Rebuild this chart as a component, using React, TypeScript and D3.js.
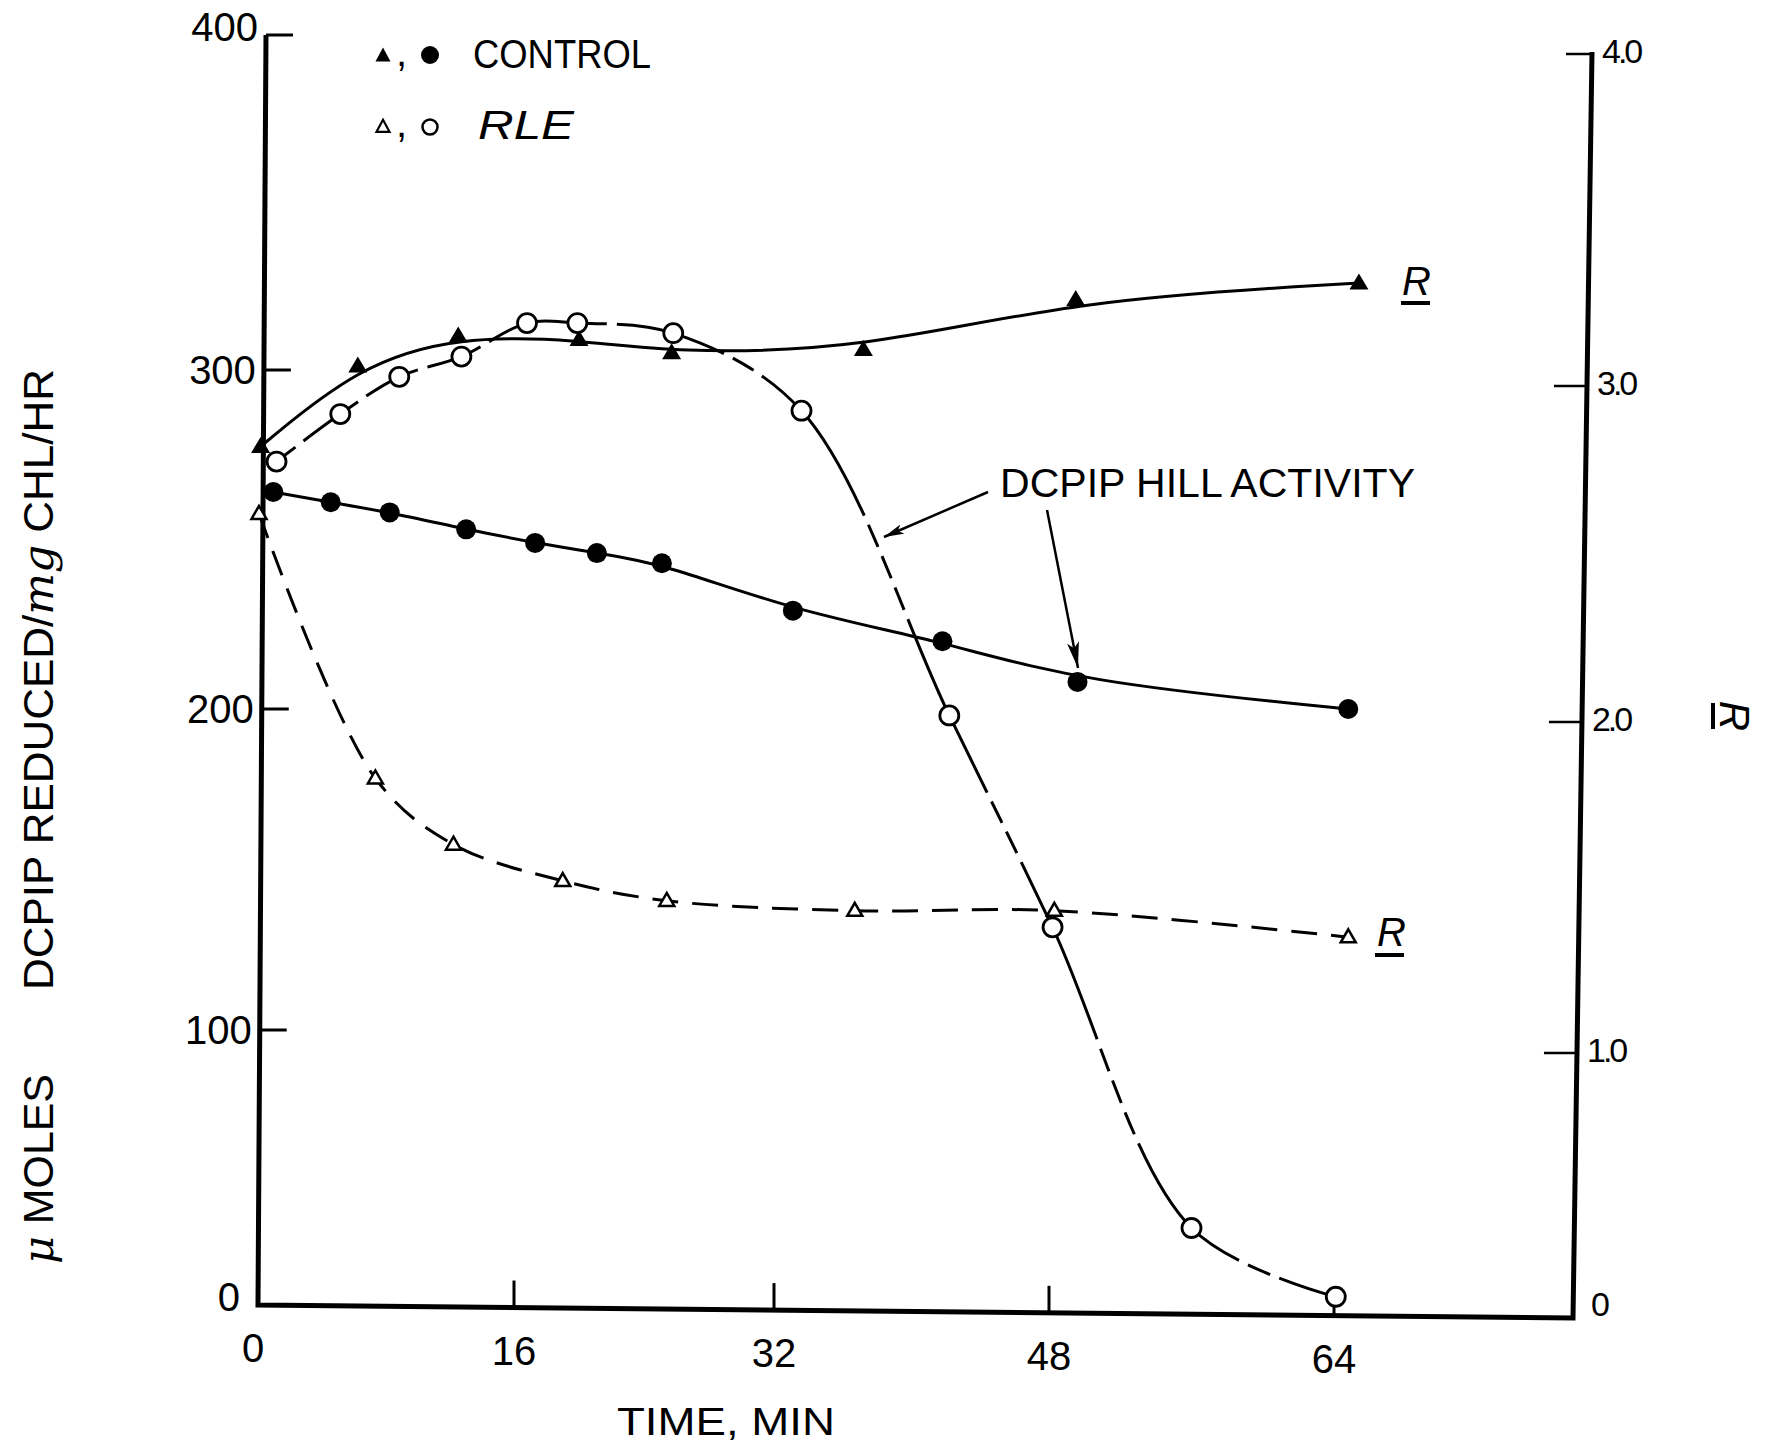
import { useRef, useLayoutEffect, useState } from "react";
import * as d3 from "d3";

// values (time in min)
const timeTicks = [0, 16, 32, 48, 64];
const hillTicks = [0, 100, 200, 300, 400];
const rTicks = [0, 1, 2, 3, 4];
const rTickLabels = ["0", "1.0", "2.0", "3.0", "4.0"];

// control, R (filled triangles, right axis)
const controlRTime = [0.1, 6.2, 12.5, 20.0, 25.7, 37.2, 49.5, 65.4];
const controlR = [2.82, 3.06, 3.15, 3.14, 3.1, 3.11, 3.26, 3.31];

// control, DCPIP Hill activity (filled circles, left axis)
const controlHillTime = [0.9, 4.5, 8.2, 13.0, 17.3, 21.1, 25.1, 33.1, 41.8, 49.6, 64.8];
const controlHill = [264, 261, 258, 253, 249, 246, 243, 229, 220, 208, 200];

// RLE, R (open triangles, right axis)
const rleRTime = [0, 7.3, 12.2, 19.0, 25.4, 36.7, 48.3, 64.8];
const rleR = [2.62, 1.83, 1.63, 1.52, 1.46, 1.43, 1.43, 1.35];

// RLE, DCPIP Hill activity (open circles, left axis)
const rleHillTime = [1.1, 5.1, 8.8, 12.7, 16.8, 19.9, 25.8, 33.6, 42.2, 48.2, 56.0, 64.1];
const rleHill = [273, 287, 298, 304, 314, 314, 311, 288, 198, 132, 28, 3];

const W = 1765;
const H = 1445;
const FONT = "'Liberation Sans', Arial, sans-serif";

// the scanned axes are slightly uneven, so the scales are piecewise
const x = d3.scaleLinear().domain(timeTicks).range([259, 514, 774, 1049, 1334]);
const yHill = d3.scaleLinear().domain(hillTicks).range([1305, 1030, 709, 370, 35]);
const yR = d3.scaleLinear().domain(rTicks).range([1316, 1053, 722, 386, 54]);

// frame corners (hand drawn, a little tilted)
const frame = { tl: [266, 35], bl: [258, 1305], br: [1573, 1318], tr: [1592, 52] };
const leftX = (y: number) => frame.bl[0] + ((frame.bl[1] - y) / (frame.bl[1] - frame.tl[1])) * (frame.tl[0] - frame.bl[0]);
const rightX = (y: number) => frame.br[0] + ((frame.br[1] - y) / (frame.br[1] - frame.tr[1])) * (frame.tr[0] - frame.br[0]);
const bottomY = (px: number) => frame.bl[1] + ((px - frame.bl[0]) / (frame.br[0] - frame.bl[0])) * (frame.br[1] - frame.bl[1]);

const zip = (xs: number[], ys: number[]) => xs.map((t, i) => [t, ys[i]] as [number, number]);

const triUp = (cx: number, cy: number, w: number, h: number) =>
  `M${cx},${cy - h * 0.6}L${cx + w / 2},${cy + h * 0.4}L${cx - w / 2},${cy + h * 0.4}Z`;

function App() {
  const rleHillRef = useRef<SVGPathElement>(null);
  const [dash, setDash] = useState<string | undefined>(undefined);

  const lineHill = (curve: d3.CurveFactory) =>
    d3.line<[number, number]>().x(d => x(d[0])).y(d => yHill(d[1])).curve(curve);
  const lineR = (curve: d3.CurveFactory) =>
    d3.line<[number, number]>().x(d => x(d[0])).y(d => yR(d[1])).curve(curve);

  const controlRPath = lineR(d3.curveBasis)(zip(controlRTime, controlR))!;
  const controlHillPath = lineHill(d3.curveBasis)(zip(controlHillTime, controlHill))!;
  const rleRPath = lineR(d3.curveCatmullRom.alpha(0.5))(zip(rleRTime, rleR))!;
  const rleHillPath = lineHill(d3.curveCatmullRom.alpha(0.5))(zip(rleHillTime, rleHill))!;

  // the RLE hill curve is solid near its points, with a few breaks midway
  useLayoutEffect(() => {
    const p = rleHillRef.current;
    if (!p) return;
    const total = p.getTotalLength();
    const marks = rleHillTime.map((t, i) => {
      const px = x(t), py = yHill(rleHill[i]);
      let best = 0, bd = Infinity;
      for (let l = 0; l <= total; l += 2) {
        const q = p.getPointAtLength(l);
        const d = (q.x - px) ** 2 + (q.y - py) ** 2;
        if (d < bd) { bd = d; best = l; }
      }
      return best;
    });
    const gaps: [number, number][] = [];
    for (let i = 0; i < marks.length - 1; i++) {
      const a = marks[i], b = marks[i + 1];
      const len = b - a;
      if (len < 55) continue;
      const s = len > 150 ? len * 0.36 : len * 0.3;
      let pos = a + s;
      const end = b - (len > 150 ? len * 0.3 : len * 0.3);
      do {
        gaps.push([pos, pos + 10]);
        pos += 10 + 24;
      } while (pos + 10 < end);
    }
    const arr: number[] = [];
    let cur = 0;
    gaps.forEach(([g0, g1]) => {
      arr.push(g0 - cur, g1 - g0);
      cur = g1;
    });
    arr.push(total - cur + 10, 0);
    setDash(arr.map(v => v.toFixed(1)).join(" "));
  }, []);

  const axisStroke = 5;

  return (
    <svg width={W} height={H} style={{ position: "absolute", left: 0, top: 0, display: "block", background: "#fff" }}
      fontFamily={FONT}>
      <rect width={W} height={H} fill="#fff" />

      {/* frame */}
      <path d={`M${frame.tl[0]},${frame.tl[1]}L${frame.bl[0]},${frame.bl[1]}L${frame.br[0]},${frame.br[1]}L${frame.tr[0]},${frame.tr[1]}`}
        fill="none" stroke="#000" strokeWidth={axisStroke} strokeLinejoin="miter" />

      {/* left ticks */}
      {hillTicks.filter(v => v > 0).map(v => {
        const y = yHill(v);
        const x0 = leftX(y);
        return <line key={"lt" + v} x1={x0} x2={x0 + 27} y1={y} y2={y} stroke="#000" strokeWidth={3} />;
      })}
      {hillTicks.map(v => {
        const y = yHill(v);
        return (
          <text key={"ll" + v} x={leftX(y) - (v === 0 ? 18 : 8)} y={y + (v === 400 ? -8 : v === 0 ? -8 : 0)} dy="0.36em"
            textAnchor="end" fontSize={40}>{v}</text>
        );
      })}

      {/* right ticks */}
      {rTicks.filter(v => v > 0).map(v => {
        const y = yR(v);
        const x0 = rightX(y);
        return <line key={"rt" + v} x1={x0 - (v === 4 ? 26 : 33)} x2={x0} y1={y} y2={y} stroke="#000" strokeWidth={2.5} />;
      })}
      {rTicks.map((v, i) => {
        const y = yR(v);
        return (
          <text key={"rl" + v} x={rightX(y) + (v === 0 ? 18 : 10)} y={y + (v === 0 ? -12 : -3)} dy="0.36em"
            fontSize={34} letterSpacing={-3}>{rTickLabels[i]}</text>
        );
      })}

      {/* bottom ticks */}
      {timeTicks.filter(t => t > 0).map(t => {
        const px = x(t);
        const y0 = bottomY(px);
        return <line key={"bt" + t} x1={px} x2={px} y1={y0} y2={y0 - 27} stroke="#000" strokeWidth={3} />;
      })}
      {timeTicks.map(t => {
        const px = x(t);
        return (
          <text key={"bl" + t} x={px - (t === 0 ? 6 : 0)} y={bottomY(px) + 57} textAnchor="middle" fontSize={40}>{t}</text>
        );
      })}

      {/* axis titles */}
      <text x={617} y={1435} fontSize={38} textLength={218} lengthAdjust="spacingAndGlyphs">TIME, MIN</text>
      <text transform="translate(53,1264) rotate(-90)" fontSize={42} textLength={190} lengthAdjust="spacingAndGlyphs">
        <tspan fontFamily="'DejaVu Serif', serif" fontStyle="italic">μ</tspan> MOLES
      </text>
      <text transform="translate(53,990) rotate(-90)" fontSize={42} textLength={621} lengthAdjust="spacingAndGlyphs">
        DCPIP REDUCED/<tspan fontFamily="'DejaVu Serif', serif" fontStyle="italic">mg</tspan> CHL/HR
      </text>
      <g transform="translate(1734,716) rotate(90)">
        <text x={0} y={14} textAnchor="middle" fontSize={42} fontStyle="italic">R</text>
        <line x1={-13} x2={13} y1={21} y2={21} stroke="#000" strokeWidth={4} />
      </g>

      {/* legend */}
      <path d={triUp(383, 56, 15, 14)} fill="#000" />
      <text x={396} y={66} fontSize={40}>,</text>
      <circle cx={430} cy={55} r={9} fill="#000" />
      <text x={473} y={68} fontSize={40} textLength={178} lengthAdjust="spacingAndGlyphs">CONTROL</text>
      <path d={triUp(383, 127, 13, 12)} fill="#fff" stroke="#000" strokeWidth={2.2} />
      <text x={396} y={137} fontSize={40}>,</text>
      <circle cx={430} cy={127} r={7.5} fill="#fff" stroke="#000" strokeWidth={2.5} />
      <text x={478} y={139} fontSize={40} fontStyle="italic" textLength={96} lengthAdjust="spacingAndGlyphs">RLE</text>

      {/* curves */}
      <path d={controlRPath} fill="none" stroke="#000" strokeWidth={3} />
      <path d={controlHillPath} fill="none" stroke="#000" strokeWidth={3} />
      <path d={rleRPath} fill="none" stroke="#000" strokeWidth={3} strokeDasharray="26 14" />
      <path ref={rleHillRef} d={rleHillPath} fill="none" stroke="#000" strokeWidth={3} strokeDasharray={dash} />

      {/* markers */}
      {controlRTime.map((t, i) => (
        <path key={"cr" + i} d={triUp(x(t), yR(controlR[i]), 19, 16)} fill="#000" />
      ))}
      {controlHillTime.map((t, i) => (
        <circle key={"ch" + i} cx={x(t)} cy={yHill(controlHill[i])} r={10} fill="#000" />
      ))}
      {rleRTime.map((t, i) => (
        <path key={"rr" + i} d={triUp(x(t), yR(rleR[i]), 15, 13)} fill="#fff" stroke="#000" strokeWidth={2.5} />
      ))}
      {rleHillTime.map((t, i) => (
        <circle key={"rh" + i} cx={x(t)} cy={yHill(rleHill[i])} r={9.5} fill="#fff" stroke="#000" strokeWidth={2.8} />
      ))}

      {/* R labels on curves */}
      <text x={1402} y={295} fontSize={40} fontStyle="italic">R</text>
      <line x1={1401} x2={1430} y1={303} y2={303} stroke="#000" strokeWidth={4} />
      <text x={1377} y={946} fontSize={40} fontStyle="italic">R</text>
      <line x1={1375} x2={1404} y1={955} y2={955} stroke="#000" strokeWidth={4} />

      {/* annotation */}
      <text x={1000} y={497} fontSize={40} textLength={415} lengthAdjust="spacingAndGlyphs">DCPIP HILL ACTIVITY</text>
      <defs>
        <marker id="ah" viewBox="0 0 20 10" refX={20} refY={5} markerWidth={20} markerHeight={10}
          markerUnits="userSpaceOnUse" orient="auto">
          <path d="M0,0L20,5L0,10L5,5Z" fill="#000" />
        </marker>
        <marker id="ah2" viewBox="0 0 26 12" refX={26} refY={6} markerWidth={26} markerHeight={12}
          markerUnits="userSpaceOnUse" orient="auto">
          <path d="M0,0L26,6L0,12L6,6Z" fill="#000" />
        </marker>
      </defs>
      <line x1={988} y1={492} x2={884} y2={537} stroke="#000" strokeWidth={2.5} markerEnd="url(#ah)" />
      <line x1={1047} y1={510} x2={1078} y2={668} stroke="#000" strokeWidth={2.5} markerEnd="url(#ah2)" />
    </svg>
  );
}

export default App;
